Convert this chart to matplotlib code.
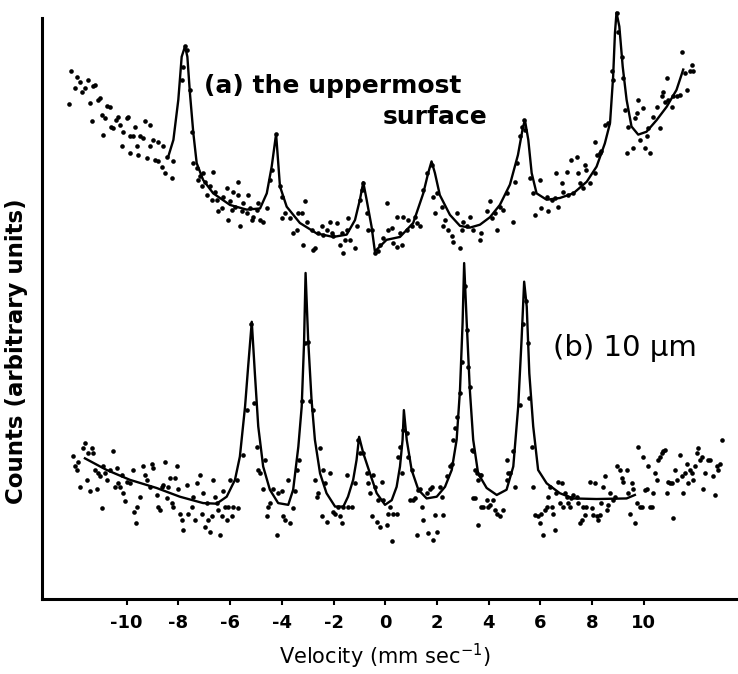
import matplotlib
matplotlib.use("Agg")
import matplotlib.pyplot as plt

plt.rcParams['font.family'] = ['DejaVu Sans']
plt.rcParams['axes.unicode_minus'] = False

# (a) the uppermost surface - measured points
vel_a = [-12.21, -12.16, -11.99, -11.93, -11.80, -11.74, -11.61, -11.48, -11.41, -11.35,
         -11.29, -11.22, -11.09, -11.03, -10.96, -10.90, -10.83, -10.74, -10.64, -10.62,
         -10.51, -10.41, -10.32, -10.26, -10.19, -10.13, -10.00, -9.93, -9.87, -9.87,
         -9.74, -9.68, -9.61, -9.55, -9.48, -9.35, -9.29, -9.22, -9.10, -9.10,
         -8.97, -8.90, -8.77, -8.77, -8.64, -8.58, -8.52, -8.45, -8.26, -8.19,
         -7.87, -7.81, -7.74, -7.68, -7.55, -7.49, -7.42, -7.29, -7.23, -7.16,
         -7.10, -7.03, -6.97, -6.91, -6.78, -6.71, -6.65, -6.58, -6.52, -6.45,
         -6.33, -6.26, -6.13, -6.07, -6.00, -5.94, -5.87, -5.81, -5.68, -5.68,
         -5.62, -5.55, -5.49, -5.36, -5.29, -5.23, -5.17, -5.10, -4.97, -4.91,
         -4.84, -4.71, -4.59, -4.46, -4.39, -4.22,
         -4.07, -4.01, -4.01, -3.88, -3.68, -3.56, -3.43, -3.36, -3.23, -3.17,
         -3.10, -3.04, -2.85, -2.78, -2.72, -2.59, -2.46, -2.40, -2.27, -2.14,
         -2.07, -2.01, -1.88, -1.75, -1.69, -1.62, -1.56, -1.49, -1.43, -1.36,
         -1.17, -1.11, -0.98, -0.91, -0.85, -0.72, -0.66, -0.53, -0.40, -0.27,
         -0.20, -0.08, 0.05, 0.12, 0.25, 0.31, 0.44, 0.44, 0.57, 0.63,
         0.70, 0.83, 0.89, 1.02, 1.15, 1.21, 1.34, 1.47, 1.60, 1.79,
         1.83, 1.92, 1.99, 2.18, 2.24, 2.31, 2.44, 2.57, 2.63, 2.76,
         2.89, 2.95, 3.02, 3.15, 3.27, 3.40, 3.66, 3.72, 3.92, 4.05,
         4.11, 4.24, 4.31, 4.43, 4.56, 4.69,
         4.95, 5.01, 5.08, 5.21, 5.27, 5.38, 5.40, 5.59, 5.72, 5.79,
         5.98, 6.04, 6.24, 6.30, 6.43, 6.56, 6.62, 6.69, 6.82, 6.88,
         7.01, 7.08, 7.20, 7.27, 7.40, 7.46, 7.53, 7.65, 7.72, 7.78,
         7.91, 8.11, 8.11, 8.17, 8.30, 8.36, 8.49, 8.62, 8.75, 8.81,
         8.94, 9.01, 9.14, 9.20, 9.27, 9.33, 9.39, 9.59, 9.65, 9.72,
         9.78, 9.85, 9.97, 10.04, 10.10, 10.17, 10.23, 10.36, 10.49, 10.62,
         10.68, 10.75, 10.81, 10.88, 10.94, 11.07, 11.13, 11.26, 11.39, 11.46,
         11.58, 11.65, 11.78, 11.84, 11.91]
cnt_a = [85.2, 90.8, 87.9, 89.9, 89.0, 87.3, 87.9, 89.3, 85.3, 82.2,
         88.2, 88.5, 85.9, 86.2, 83.3, 79.9, 82.7, 84.9, 84.7, 81.3,
         81.0, 82.4, 83.0, 81.6, 77.9, 80.4, 82.7, 83.0, 79.6, 76.7,
         79.6, 81.3, 77.9, 76.4, 79.6, 79.3, 82.2, 75.8, 81.6, 77.9,
         79.0, 75.6, 75.3, 78.7, 74.4, 77.9, 73.3, 76.1, 72.4, 75.3,
         89.3, 91.6, 95.1, 94.5, 87.6, 80.4, 75.0, 74.1, 72.1, 72.7,
         71.0, 73.3, 71.8, 69.5, 71.0, 68.7, 73.5, 70.1, 68.7, 66.7,
         67.2, 69.2, 70.7, 65.2, 68.4, 67.0, 70.1, 67.5, 71.8, 69.5,
         64.1, 66.7, 68.1, 66.4, 69.5, 67.2, 65.2, 65.8, 67.0, 68.1,
         65.2, 64.9, 67.2, 72.1, 73.8, 80.0,
         71.0, 69.2, 65.5, 66.4, 65.5, 62.9, 63.5, 66.4, 66.4, 60.9,
         68.4, 64.9, 63.5, 60.1, 60.4, 62.9, 64.1, 62.6, 63.5, 64.9,
         62.9, 62.4, 64.7, 60.9, 62.9, 59.5, 61.8, 63.5, 65.5, 61.8,
         60.4, 64.1, 68.7, 70.4, 71.5, 66.4, 63.5, 63.5, 59.5, 59.8,
         60.9, 62.1, 68.2, 63.5, 63.8, 61.2, 65.8, 60.6, 62.9, 60.9,
         65.8, 63.5, 65.2, 64.1, 65.8, 64.7, 64.1, 70.4, 73.3, 74.7,
         69.2, 66.4, 69.8, 67.5, 64.1, 65.2, 63.5, 62.4, 61.5, 66.4,
         60.4, 63.5, 64.9, 64.1, 65.8, 63.5, 61.8, 62.9, 66.7, 68.4,
         65.5, 66.4, 63.5, 67.5, 67.0, 69.8,
         64.9, 71.8, 75.0, 79.6, 81.3, 82.4, 80.7, 72.4, 69.8, 66.1,
         72.1, 67.2, 69.2, 66.7, 68.7, 69.0, 73.3, 67.5, 71.5, 70.1,
         73.5, 69.5, 75.6, 69.8, 76.1, 73.3, 71.5, 70.7, 74.7, 73.8,
         71.5, 73.3, 78.7, 76.4, 76.7, 77.0, 81.6, 81.9, 90.8, 89.3,
         100.9, 97.6, 93.3, 89.6, 84.2, 76.7, 81.3, 77.6, 82.7, 83.6,
         85.9, 79.0, 84.5, 77.6, 79.6, 81.0, 76.7, 83.0, 84.7, 81.0,
         86.5, 87.3, 85.6, 89.6, 85.9, 84.7, 86.5, 86.5, 86.7, 94.2,
         90.5, 87.6, 90.8, 91.9, 90.8]

# (a) fitted curve
fit_vel_a = [-8.39, -8.19, -8.00, -7.87, -7.74, -7.65, -7.55, -7.42, -7.29, -7.04,
             -6.65, -6.00, -5.36, -4.84, -4.58, -4.39, -4.22, -4.07, -3.81, -3.30,
             -2.65, -2.01, -1.49, -1.17, -0.98, -0.85, -0.72, -0.53, -0.40, 0.05,
             0.57, 1.08, 1.47, 1.66, 1.79, 1.92, 2.11, 2.50, 2.89, 3.27,
             3.66, 4.05, 4.43, 4.82, 5.13, 5.32, 5.40, 5.53, 5.66, 5.85,
             6.24, 6.75, 7.27, 7.79, 8.17, 8.49, 8.69, 8.81, 8.88, 8.94,
             9.05, 9.18, 9.33, 9.52, 9.78, 10.10, 10.49, 10.88, 11.26, 11.52]
fit_cnt_a = [76.1, 79.0, 85.9, 93.3, 95.1, 93.3, 87.0, 80.2, 75.0, 72.1,
             69.8, 67.8, 67.0, 67.2, 69.8, 74.4, 80.0, 71.0, 67.5, 64.7,
             62.9, 62.3, 62.7, 65.2, 68.7, 71.7, 68.7, 64.1, 59.8, 61.8,
             62.3, 64.7, 69.8, 73.3, 75.3, 73.3, 69.5, 66.1, 64.2, 63.9,
             64.4, 65.7, 67.8, 71.3, 76.4, 81.1, 82.4, 79.0, 73.3, 69.8,
             68.7, 69.0, 69.8, 71.8, 74.4, 78.4, 81.9, 89.9, 97.4, 100.9,
             98.5, 91.6, 85.9, 81.3, 79.9, 80.4, 82.4, 84.7, 87.6, 91.1]

# (b) 10 um - measured points
vel_b = [-12.06, -11.99, -11.93, -11.87, -11.80, -11.70, -11.61, -11.54, -11.48, -11.41,
         -11.35, -11.29, -11.22, -11.16, -11.09, -11.03, -10.96, -10.90, -10.83, -10.77,
         -10.64, -10.51, -10.45, -10.38, -10.32, -10.26, -10.19, -10.13, -10.06, -10.00,
         -9.87, -9.74, -9.71, -9.64, -9.59, -9.48, -9.35, -9.29, -9.22, -9.10,
         -9.03, -8.97, -8.84, -8.77, -8.71, -8.64, -8.58, -8.52, -8.45, -8.39,
         -8.32, -8.26, -8.19, -8.13, -8.06, -8.00, -7.94, -7.87, -7.81, -7.68,
         -7.61, -7.49, -7.42, -7.36, -7.29, -7.16, -7.10, -7.03, -6.97, -6.91,
         -6.84, -6.78, -6.71, -6.65, -6.58, -6.52, -6.45, -6.39, -6.33, -6.26,
         -6.20, -6.13, -6.07, -6.00, -5.94, -5.87, -5.75, -5.68,
         -5.49, -5.36, -5.20, -5.08, -4.97, -4.91, -4.84, -4.71, -4.65, -4.59,
         -4.52, -4.46, -4.33, -4.20, -4.13,
         -4.01, -3.94, -3.88, -3.75, -3.68, -3.56, -3.49, -3.43, -3.32, -3.23,
         -3.10, -2.98, -2.91, -2.78, -2.72, -2.65, -2.59, -2.52, -2.46, -2.40,
         -2.33, -2.27, -2.14, -2.01, -1.94, -1.82, -1.75, -1.69, -1.62, -1.49,
         -1.43, -1.30, -1.17, -1.04, -0.98, -0.85, -0.72, -0.66, -0.59, -0.53,
         -0.46, -0.40, -0.33, -0.27, -0.20, -0.14, -0.08, 0.05, 0.12, 0.18,
         0.25, 0.31, 0.44, 0.50, 0.57, 0.63, 0.70, 0.83, 0.89, 0.95,
         1.02, 1.08, 1.15, 1.21, 1.28, 1.34, 1.41, 1.47, 1.60, 1.66,
         1.73, 1.79, 1.86, 1.92, 1.99, 2.11, 2.18, 2.24, 2.37, 2.50,
         2.57, 2.63, 2.69, 2.76, 2.89, 2.95, 3.08, 3.17, 3.21, 3.27,
         3.34, 3.40, 3.47, 3.53, 3.60, 3.66, 3.72, 3.40, 3.47, 3.60,
         3.72, 3.79, 3.92, 3.98, 4.05, 4.18, 4.24, 4.31, 4.43, 4.56,
         4.69, 4.69, 4.76,
         4.82, 4.95, 5.01, 5.21, 5.31, 5.46, 5.53, 5.57, 5.66, 5.72,
         5.79, 5.92, 5.98, 6.04, 6.11, 6.17, 6.24, 6.30, 6.37, 6.43,
         6.50, 6.56, 6.62, 6.69, 6.75, 6.82, 6.88, 6.95, 7.01, 7.08,
         7.14, 7.20, 7.27, 7.40, 7.46, 7.53, 7.59, 7.65, 7.72, 7.78,
         7.91, 7.98, 8.04, 8.11, 8.17, 8.24, 8.30, 8.36, 8.43, 8.49,
         8.56, 8.62, 8.69, 8.81, 8.88, 8.94, 9.07, 9.14, 9.20, 9.33,
         9.39, 9.46, 9.52, 9.59, 9.65, 9.72, 9.78, 9.85, 9.91, 9.97,
         10.04, 10.10, 10.17, 10.23, 10.30, 10.36, 10.43, 10.49, 10.55, 10.62,
         10.68, 10.75, 10.81, 10.88, 10.94, 11.01, 11.07, 11.13, 11.20, 11.26,
         11.39, 11.46, 11.52, 11.58, 11.65, 11.71, 11.78, 11.84, 11.91, 11.97,
         12.04, 12.10, 12.16, 12.23, 12.29, 12.36, 12.49, 12.55, 12.68, 12.74,
         12.81, 12.87, 12.94, 13.00]
cnt_b = [24.6, 22.8, 22.2, 23.6, 19.3, 25.9, 26.8, 20.5, 25.1, 18.5,
         25.9, 25.1, 22.2, 19.0, 21.6, 21.1, 15.6, 22.8, 21.6, 20.5,
         22.2, 25.4, 19.3, 22.5, 19.9, 19.3, 21.3, 18.2, 16.8, 20.2,
         19.9, 22.2, 15.0, 13.0, 15.9, 17.6, 22.8, 21.3, 20.5, 19.3,
         23.3, 22.5, 17.9, 15.9, 15.3, 19.3, 19.6, 23.6, 17.3, 19.3,
         20.8, 16.5, 15.9, 20.8, 22.8, 19.0, 14.7, 13.6, 11.9, 19.6,
         14.7, 15.9, 17.6, 13.6, 19.9, 21.3, 14.7, 18.2, 12.4, 16.5,
         13.6, 11.6, 14.2, 20.5, 17.6, 16.5, 15.3, 11.0, 14.2, 18.5,
         15.9, 13.6, 15.9, 20.5, 14.2, 15.9, 20.5, 15.6,
         24.8, 32.5, 47.4, 33.7, 26.2, 22.2, 21.6, 19.0, 23.9, 14.2,
         15.9, 16.5, 19.0, 11.0, 18.2,
         18.5, 14.2, 13.6, 20.5, 13.0, 15.6, 18.5, 22.2, 23.9, 34.0,
         44.0, 44.3, 34.0, 32.5, 20.5, 17.6, 18.2, 25.9, 14.2, 22.2,
         19.9, 13.3, 21.6, 15.0, 14.7, 15.9, 14.2, 13.0, 15.9, 21.3,
         15.9, 15.9, 19.9, 27.4, 25.1, 25.1, 21.6, 19.9, 18.2, 14.2,
         21.3, 19.3, 13.3, 17.0, 12.4, 20.2, 17.0, 12.7, 14.7, 15.9,
         9.9, 14.7, 14.7, 24.5, 26.2, 21.6, 29.1, 28.5, 24.5, 17.0,
         22.2, 17.0, 17.3, 11.0, 18.8, 19.0, 15.9, 13.6, 18.2, 11.3,
         19.0, 19.3, 10.2, 14.5, 11.6, 19.3, 17.6, 14.5, 21.1, 22.8,
         23.3, 27.4, 29.4, 31.4, 35.4, 40.8, 53.8, 46.3, 40.0, 36.5,
         25.6, 25.4, 22.2, 21.6, 20.5, 21.3, 21.3, 17.3, 17.3, 12.7,
         15.9, 15.9, 17.0, 15.9, 16.2, 17.0, 15.3, 14.7, 14.2, 15.3,
         23.9, 20.5, 21.6,
         21.6, 25.4, 19.3, 33.4, 47.4, 51.2, 44.0, 34.5, 26.2, 19.3,
         14.5, 14.2, 13.0, 14.7, 11.0, 15.3, 15.9, 17.6, 19.3, 15.9,
         14.7, 11.9, 18.2, 20.2, 16.5, 19.9, 15.9, 18.2, 17.6, 16.5,
         15.9, 17.3, 17.9, 17.6, 16.5, 13.0, 13.6, 15.9, 14.5, 15.9,
         20.2, 15.6, 14.5, 19.9, 14.2, 13.6, 14.5, 16.5, 19.3, 21.1,
         15.3, 16.2, 18.2, 17.0, 17.6, 22.8, 22.2, 20.8, 20.2, 22.2,
         18.2, 14.7, 19.9, 19.0, 13.0, 16.5, 26.2, 15.9, 15.9, 24.5,
         18.8, 19.0, 22.8, 15.9, 15.9, 18.2, 21.6, 20.5, 23.9, 24.5,
         25.1, 25.4, 25.6, 18.2, 20.2, 19.9, 19.9, 13.9, 22.2, 20.5,
         24.8, 21.1, 18.2, 21.6, 23.3, 19.9, 22.2, 21.6, 20.5, 22.8,
         25.1, 25.9, 23.9, 24.5, 19.0, 21.6, 23.9, 23.9, 21.1, 17.9,
         22.8, 22.2, 23.3, 27.4]

# (b) fitted curve
fit_vel_b = [-11.61, -10.77, -9.87, -8.84, -7.94, -7.04, -6.52, -6.13, -5.81, -5.62,
             -5.42, -5.30, -5.16, -5.04, -4.91, -4.72, -4.46, -4.14, -3.75, -3.56,
             -3.36, -3.23, -3.14, -3.08, -2.98, -2.85, -2.72, -2.52, -2.27, -1.94,
             -1.62, -1.44, -1.24, -1.11, -1.01, -0.85, -0.59, -0.33, -0.01, 0.25,
             0.44, 0.57, 0.67, 0.72, 0.83, 1.02, 1.28, 1.60, 1.99, 2.31,
             2.57, 2.76, 2.89, 2.99, 3.05, 3.15, 3.27, 3.40, 3.59, 3.92,
             4.31, 4.69, 4.95, 5.14, 5.27, 5.37, 5.47, 5.57, 5.72, 5.91,
             6.24, 6.75, 7.27, 8.17, 9.33, 9.65]
fit_cnt_b = [24.2, 22.2, 20.5, 19.1, 17.6, 16.5, 16.4, 17.6, 20.5, 24.5,
             33.1, 40.0, 47.7, 38.8, 29.7, 22.8, 18.8, 16.5, 16.2, 18.8,
             26.2, 33.1, 44.0, 56.1, 44.6, 34.3, 27.4, 21.6, 18.2, 15.9,
             15.9, 17.6, 20.5, 23.9, 27.9, 25.1, 21.6, 18.2, 16.2, 17.0,
             19.3, 22.8, 27.4, 32.5, 27.4, 22.2, 18.8, 17.3, 17.6, 19.3,
             22.2, 27.4, 36.0, 47.5, 57.8, 47.5, 36.0, 27.4, 21.6, 19.1,
             17.9, 18.8, 22.8, 33.1, 44.6, 54.6, 50.3, 38.8, 29.7, 22.2,
             19.9, 18.2, 17.3, 17.2, 17.3, 17.9]

tick_vals = [-10, -8, -6, -4, -2, 0, 2, 4, 6, 8, 10]
tick_labels = ['-10', '-8', '-6', '-4', '-2', '0', '2', '4', '6', '8', '10']

fig = plt.figure(figsize=(7.38, 6.74), dpi=100)
ax = fig.add_axes([0.0569, 0.1113, 0.9404, 0.8769])

ax.scatter(vel_a, cnt_a, s=11, c='black', linewidths=0, clip_on=False)
ax.scatter(vel_b, cnt_b, s=11, c='black', linewidths=0, clip_on=False)
ax.plot(fit_vel_a, fit_cnt_a, color='black', lw=1.7, clip_on=False)
ax.plot(fit_vel_b, fit_cnt_b, color='black', lw=1.7, clip_on=False)

ax.set_xlim(-13.27, 13.56)
ax.set_ylim(0, 101.7)
ax.spines['top'].set_visible(False)
ax.spines['right'].set_visible(False)
ax.spines['left'].set_bounds(0, 100)
ax.spines['left'].set_linewidth(2.2)
ax.spines['bottom'].set_linewidth(2.2)
ax.set_yticks([])
ax.set_xticks(tick_vals)
ax.set_xticklabels(tick_labels, fontsize=13, fontweight='bold')
ax.tick_params(axis='x', direction='out', length=4, width=1.5, pad=7)

fig.text(385 / 738, 1 - 656 / 674, 'Velocity (mm sec$^{-1}$)', ha='center', va='center', fontsize=15)
fig.text(17 / 738, 1 - 351 / 674, 'Counts (arbitrary units)', ha='center', va='center',
         rotation=90, fontsize=16.5, fontweight='bold')

ax.text(-7.0, 88.2, '(a) the uppermost', ha='left', va='center', fontsize=18, fontweight='bold')
ax.text(3.96, 83.0, 'surface', ha='right', va='center', fontsize=18, fontweight='bold')
ax.text(6.48, 43.2, '(b) 10 μm', ha='left', va='center', fontsize=21)

fig.savefig('out.png', dpi=100)
